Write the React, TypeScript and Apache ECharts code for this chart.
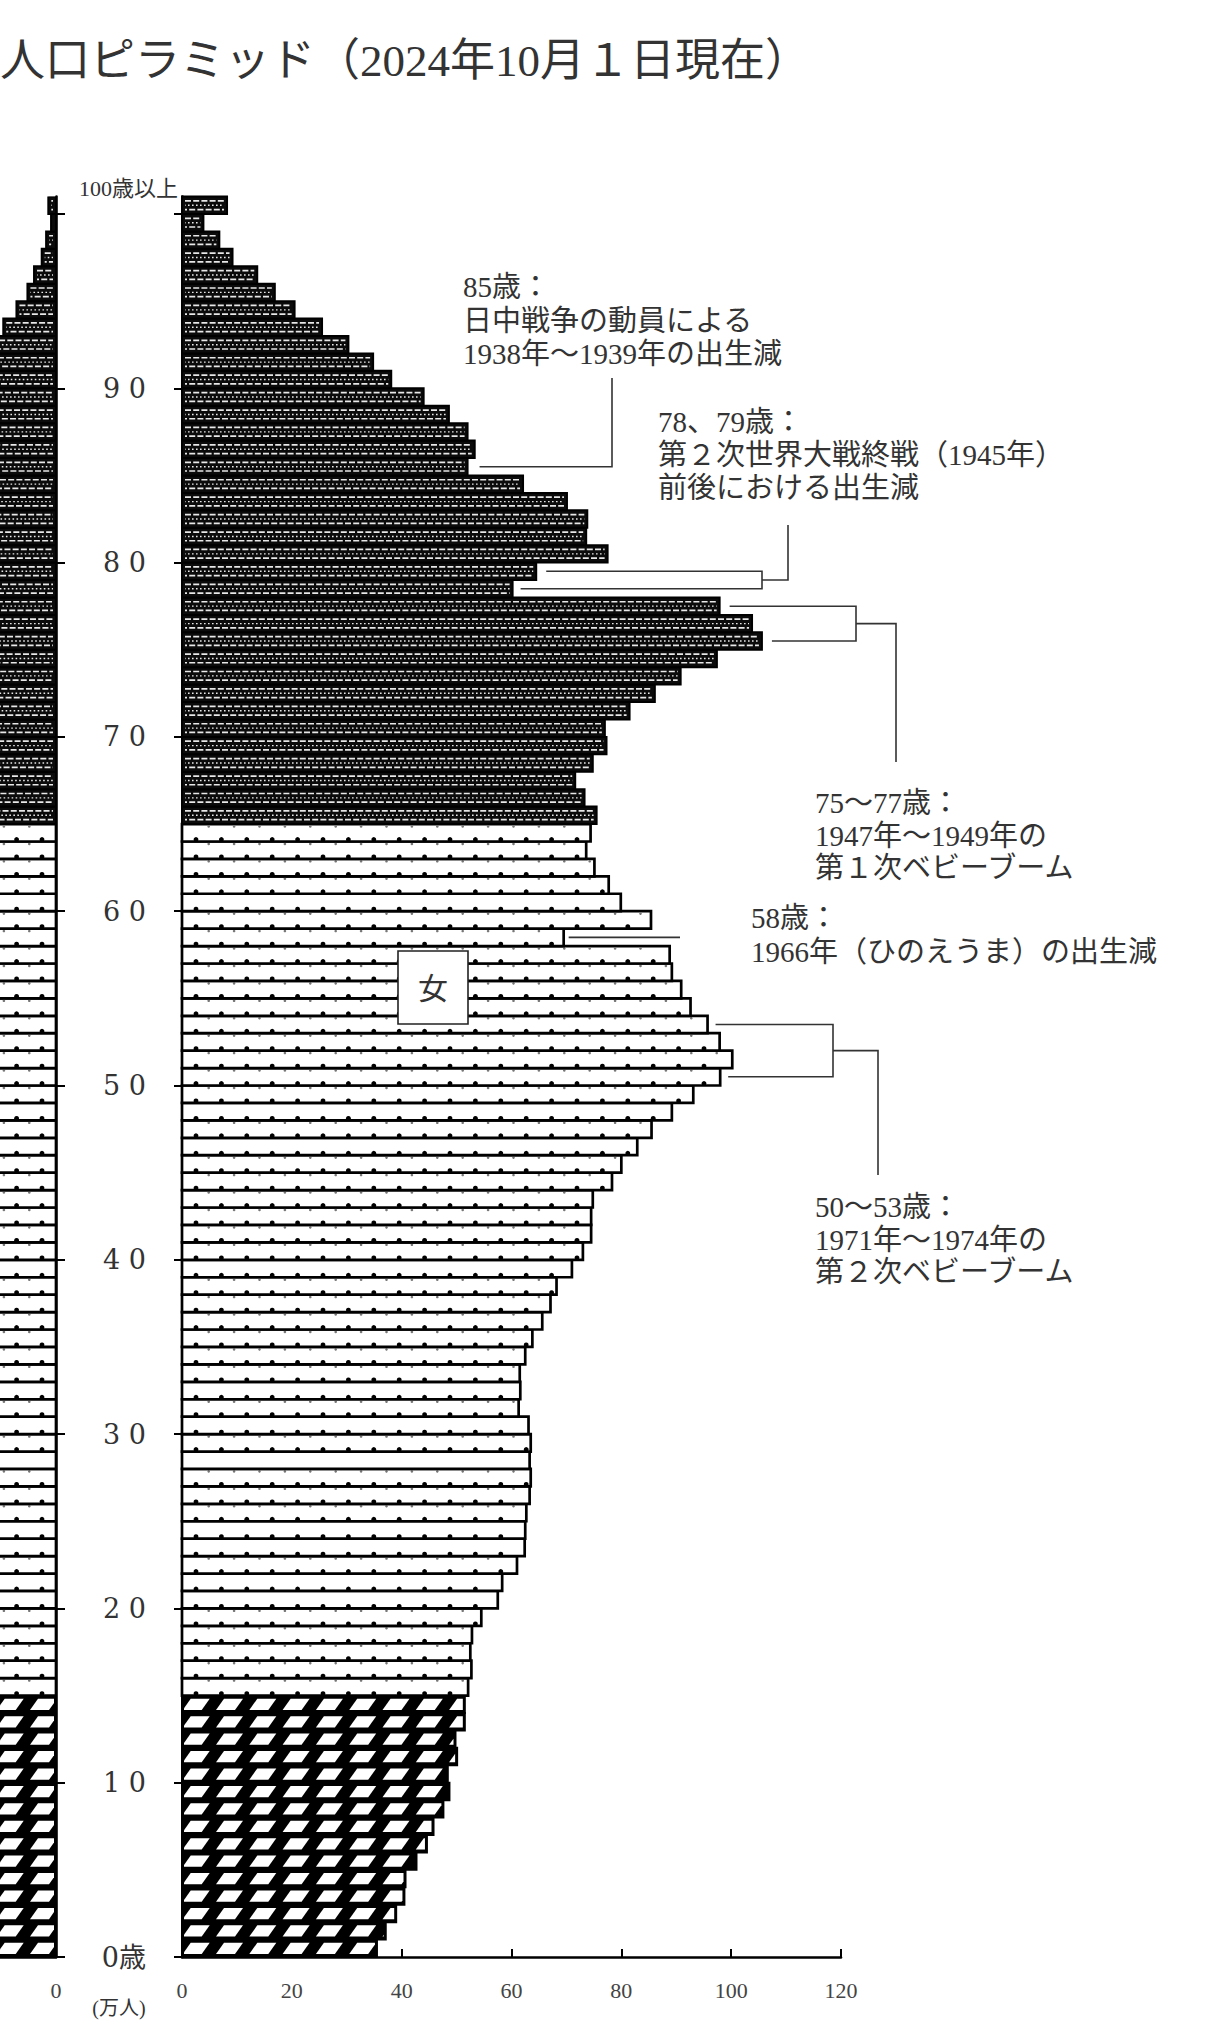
import React, { useEffect, useRef } from 'react';
import * as echarts from 'echarts';

// ---------- data ----------
const AGES: number[] = Array.from({ length: 101 }, (_, i) => i); // 0 .. 99, 100 = 100歳以上

// 女 (万人), age 0 .. 100+
const FEMALE: number[] = [
  35.5, 37.1, 39.0, 40.5, 40.7, 42.7, 44.6, 45.8, 47.6, 48.7,
  48.4, 50.1, 49.8, 51.5, 51.5, 52.1, 52.7, 52.5, 52.8, 54.5,
  57.5, 58.3, 61.0, 62.4, 62.5, 62.7, 63.3, 63.5, 63.3, 63.5,
  63.1, 61.3, 61.6, 61.5, 62.5, 63.8, 65.6, 67.1, 68.2, 71.0,
  73.0, 74.5, 74.5, 74.8, 78.3, 80.0, 82.9, 85.5, 89.2, 93.1,
  98.0, 100.2, 97.9, 95.7, 92.6, 90.9, 89.2, 88.8, 69.5, 85.4,
  79.9, 77.7, 75.1, 73.6, 74.4, 75.5, 73.3, 71.6, 74.8, 77.3,
  77.0, 81.5, 86.1, 90.8, 97.4, 105.6, 103.8, 97.9, 60.2, 64.5,
  77.5, 73.6, 73.8, 70.1, 62.1, 52.0, 53.3, 52.0, 48.6, 44.0,
  38.1, 34.8, 30.3, 25.5, 20.5, 16.9, 13.7, 9.2, 6.8, 3.9,
  8.2,
];

// 男 (万人), age 0 .. 100+ (only the oldest ages are visible in the cropped picture)
const MALE: number[] = [
  37.2, 39.1, 40.9, 42.4, 42.7, 44.8, 46.8, 48.1, 50.0, 51.1,
  50.8, 52.6, 52.3, 54.0, 54.1, 54.8, 55.4, 55.3, 55.9, 57.8,
  61.0, 62.1, 64.6, 65.8, 65.5, 65.4, 65.6, 65.4, 65.0, 64.9,
  64.5, 62.7, 63.1, 63.2, 64.4, 65.9, 67.8, 69.5, 70.6, 73.4,
  75.5, 77.1, 77.1, 77.3, 80.7, 82.6, 85.6, 88.2, 92.0, 96.1,
  101.0, 103.2, 100.5, 98.0, 94.6, 92.5, 90.3, 89.4, 69.6, 85.0,
  79.1, 76.2, 73.0, 71.0, 71.0, 71.5, 68.9, 66.8, 69.1, 70.8,
  69.7, 72.9, 76.2, 79.4, 84.2, 90.1, 87.4, 81.5, 49.2, 51.8,
  60.7, 56.1, 54.9, 50.4, 43.6, 35.0, 34.2, 31.4, 27.6, 23.3,
  18.8, 15.6, 12.4, 9.6, 7.2, 5.2, 4.0, 2.6, 1.8, 0.9,
  1.4,
];

const X_MIN = 0;
const X_MAX = 120;
const X_STEP = 20;
const AGE_TICKS = [0, 10, 20, 30, 40, 50, 60, 70, 80, 90, 100];
const AGE_TICK_LABELS = ['0歳', '1 0', '2 0', '3 0', '4 0', '5 0', '6 0', '7 0', '8 0', '9 0', ''];
const TOP_AGE_LABEL = '100歳以上';
const TITLE = '人口ピラミッド（2024年10月１日現在）';
const UNIT = '(万人)';
const SEX_LABEL = '女';
const OLD_FROM = 65;
const WORK_FROM = 15;

const ANN_85 = { ages: [85], lines: ['85歳：', '日中戦争の動員による', '1938年～1939年の出生減'] };
const ANN_78 = { ages: [79, 78], lines: ['78、79歳：', '第２次世界大戦終戦（1945年）', '前後における出生減'] };
const ANN_75 = { ages: [77, 75], lines: ['75～77歳：', '1947年～1949年の', '第１次ベビーブーム'] };
const ANN_58 = { ages: [58], lines: ['58歳：', '1966年（ひのえうま）の出生減'] };
const ANN_50 = { ages: [53, 50], lines: ['50～53歳：', '1971年～1974年の', '第２次ベビーブーム'] };

// ---------- drawing helpers ----------
const FONT = '"Liberation Serif", "Noto Sans CJK JP", serif';
const TXT = '#333';

function clipPoly(pts: number[][], lo: number, hi: number): number[][] {
  const edge = (poly: number[][], keep: (p: number[]) => boolean, xe: number) => {
    const out: number[][] = [];
    for (let i = 0; i < poly.length; i++) {
      const a = poly[i];
      const b = poly[(i + 1) % poly.length];
      const ka = keep(a);
      const kb = keep(b);
      if (ka) out.push(a);
      if (ka !== kb) {
        const t = (xe - a[0]) / (b[0] - a[0]);
        out.push([xe, a[1] + t * (b[1] - a[1])]);
      }
    }
    return out;
  };
  let p = edge(pts, (q) => q[0] >= lo, lo);
  if (p.length) p = edge(p, (q) => q[0] <= hi, hi);
  return p;
}

function makeRender(dir: number) {
  return (params: any, api: any) => {
    const val = api.value(0) as number;
    const age = api.value(1) as number;
    const pz = api.coord([0, age]);
    const pe = api.coord([val, age + 1]);
    const axisX = pz[0];
    const yBot = pz[1];
    const yTop = pe[1];
    const xa = Math.min(pz[0], pe[0]);
    const xb = Math.max(pz[0], pe[0]);
    const w = xb - xa;
    const h = yBot - yTop;
    const children: any[] = [];

    if (age >= OLD_FROM) {
      children.push({ type: 'rect', shape: { x: xa, y: yTop, width: w, height: h }, style: { fill: '#0b0b0b', stroke: '#000', lineWidth: 2 } });
      if (w > 6) {
        const rows = [
          { dy: 4.3, dash: [6, 2.2], off: 0, lw: 1.7 },
          { dy: 8.7, dash: [1.6, 2.4], off: 1, lw: 1.4 },
          { dy: 13.0, dash: [6, 2.2], off: 4, lw: 1.7 },
        ];
        rows.forEach((r) => {
          children.push({
            type: 'line',
            shape: { x1: xa + 3, y1: yTop + r.dy, x2: xb - 3, y2: yTop + r.dy },
            style: { stroke: '#e8e8e8', lineWidth: r.lw, lineDash: r.dash, lineDashOffset: r.off },
          });
        });
      }
    } else if (age >= WORK_FROM) {
      children.push({ type: 'rect', shape: { x: xa, y: yTop, width: w, height: h }, style: { fill: '#fff', stroke: '#000', lineWidth: 2.7 } });
      for (let k = 0; k < 40; k++) {
        const cx = axisX + dir * (14 + 25.4 * k);
        if (cx < xa + 4 || cx > xb - 4) break;
        children.push({ type: 'circle', shape: { cx, cy: yBot - 2, r: 2.4 }, style: { fill: '#000' } });
        const cx2 = cx + dir * 12.7;
        if (cx2 > xa + 4 && cx2 < xb - 4) {
          children.push({ type: 'circle', shape: { cx: cx2, cy: yTop + 2.4, r: 1.3 }, style: { fill: '#777' } });
        }
      }
    } else {
      children.push({ type: 'rect', shape: { x: xa, y: yTop, width: w, height: h }, style: { fill: '#000', stroke: '#000', lineWidth: 2 } });
      const P = 33.3;
      for (let k = 0; k < 20; k++) {
        const cl = dir > 0 ? axisX - 3.3 + P * k : axisX + 3.3 - P * (k + 1);
        if (cl > xb || cl + P < xa) continue;
        const poly = [
          [cl + 4, yBot - 3],
          [cl + 23, yBot - 3],
          [cl + 31, yTop + 3.2],
          [cl + 12, yTop + 3.2],
        ];
        const cp = clipPoly(poly, xa + 2, xb - 2);
        if (cp.length >= 3) {
          children.push({ type: 'polygon', shape: { points: cp }, style: { fill: '#fff' } });
        }
      }
    }
    return { type: 'group', children };
  };
}

const GRID_TOP = 196.57;
const GRID_H = 1760.43;
const F_LEFT = 182;
const F_W = 659;
const M_W = 56; // visible part of the male pyramid (cropped at the page edge)
const M_MAX = (M_W * X_MAX) / F_W; // same scale as the female side

function buildOption(): any {
  const axisLine = { show: true, onZero: false, lineStyle: { color: '#000', width: 2.6 } };
  return {
    animation: false,
    backgroundColor: '#fff',
    grid: [
      { left: 0, top: GRID_TOP, width: M_W, height: GRID_H, outerBoundsMode: 'none', containLabel: false },
      { left: F_LEFT, top: GRID_TOP, width: F_W, height: GRID_H, outerBoundsMode: 'none', containLabel: false },
    ],
    xAxis: [
      {
        gridIndex: 0, type: 'value', min: X_MIN, max: M_MAX, interval: X_STEP, inverse: true,
        axisLine, axisTick: { show: false },
        axisLabel: { formatter: (v: number) => (v === 0 ? '0' : ''), margin: 22, fontSize: 22, fontFamily: FONT, color: '#444' },
        splitLine: { show: false },
      },
      {
        gridIndex: 1, type: 'value', min: X_MIN, max: X_MAX, interval: X_STEP,
        axisLine, axisTick: { show: true, inside: true, length: 8, lineStyle: { color: '#000', width: 2 } },
        axisLabel: { margin: 22, fontSize: 22, fontFamily: FONT, color: '#444' },
        splitLine: { show: false },
      },
    ],
    yAxis: [
      {
        gridIndex: 0, type: 'value', min: 0, max: 101, interval: 10, position: 'right',
        axisLine, axisTick: { show: true, length: 9, customValues: AGE_TICKS, lineStyle: { color: '#000', width: 2 } },
        axisLabel: { show: false }, splitLine: { show: false },
      },
      {
        gridIndex: 1, type: 'value', min: 0, max: 101, interval: 10, position: 'left',
        axisLine, axisTick: { show: true, length: 8, customValues: AGE_TICKS, lineStyle: { color: '#000', width: 2 } },
        axisLabel: {
          customValues: AGE_TICKS,
          formatter: (v: number) => {
            const i = AGE_TICKS.indexOf(Math.round(v));
            return i >= 0 ? AGE_TICK_LABELS[i] : '';
          },
          margin: 36, fontSize: 27, fontFamily: '"DejaVu Serif", "Noto Sans CJK JP", serif', color: TXT,
        },
        splitLine: { show: false },
      },
    ],
    series: [
      {
        type: 'custom', name: '男', xAxisIndex: 0, yAxisIndex: 0, clip: true,
        encode: { x: 0, y: 1 },
        data: MALE.map((v, i) => [v, AGES[i]]),
        renderItem: makeRender(-1),
      },
      {
        type: 'custom', name: '女', xAxisIndex: 1, yAxisIndex: 1, clip: false,
        encode: { x: 0, y: 1 },
        data: FEMALE.map((v, i) => [v, AGES[i]]),
        renderItem: makeRender(1),
      },
    ],
  };
}

function textEl(text: string, x: number, y: number, size: number, align = 'left', color = TXT): any {
  return { type: 'text', x, y, z: 100, style: { text, fill: color, font: `${size}px ${FONT}`, align, verticalAlign: 'middle' } };
}

function buildGraphic(chart: any): any[] {
  const fp = (v: number, a: number) => chart.convertToPixel({ xAxisIndex: 1, yAxisIndex: 1 }, [v, a]) as number[];
  const endX = (age: number) => fp(FEMALE[age], age)[0];
  const cy = (age: number) => fp(0, age + 0.5)[1];
  const ls = { stroke: '#333', lineWidth: 1.6, fill: 'none' };
  const poly = (pts: number[][]) => ({ type: 'polyline', z: 100, shape: { points: pts }, style: ls });
  const els: any[] = [];
  const AS = 29; // annotation font size

  // title & fixed labels
  els.push(textEl(TITLE, 0, 61, 45));
  els.push(textEl(TOP_AGE_LABEL, 178, 188, 22, 'right'));
  els.push(textEl(UNIT, 119, 2008, 20, 'center'));

  // 女 box
  els.push({ type: 'rect', z: 100, shape: { x: 398, y: 951, width: 70, height: 73 }, style: { fill: '#fff', stroke: '#222', lineWidth: 1.6 } });
  els.push(textEl(SEX_LABEL, 433, 988, 30, 'center'));

  // 85
  {
    const a = ANN_85.ages[0];
    els.push(poly([[endX(a) + 12, cy(a)], [612, cy(a)], [612, 378]]));
    ANN_85.lines.forEach((t, i) => els.push(textEl(t, 463, 287 + i * 33.5, AS)));
  }
  // 78, 79
  {
    const [a1, a2] = ANN_78.ages;
    const bx = 762;
    els.push(poly([[endX(a1) + 10, cy(a1)], [bx, cy(a1)], [bx, cy(a2)], [endX(a2) + 8, cy(a2)]]));
    const mid = (cy(a1) + cy(a2)) / 2;
    els.push(poly([[bx, mid], [788, mid], [788, 525]]));
    ANN_78.lines.forEach((t, i) => els.push(textEl(t, 658, 422 + i * 33, AS)));
  }
  // 75-77
  {
    const [a1, a2] = ANN_75.ages;
    const bx = 856;
    els.push(poly([[endX(a1) + 10, cy(a1)], [bx, cy(a1)], [bx, cy(a2)], [endX(a2) + 10, cy(a2)]]));
    const mid = (cy(a1) + cy(a2)) / 2;
    els.push(poly([[bx, mid], [896, mid], [896, 762]]));
    ANN_75.lines.forEach((t, i) => els.push(textEl(t, 815, 803 + i * 32.5, AS)));
  }
  // 58
  {
    const a = ANN_58.ages[0];
    els.push(poly([[endX(a) + 5, cy(a)], [680, cy(a)]]));
    ANN_58.lines.forEach((t, i) => els.push(textEl(t, 751, 918 + i * 34, AS)));
  }
  // 50-53
  {
    const [a1, a2] = ANN_50.ages;
    const bx = 833;
    els.push(poly([[endX(a1) + 8, cy(a1)], [bx, cy(a1)], [bx, cy(a2)], [endX(a2) + 8, cy(a2)]]));
    const mid = (cy(a1) + cy(a2)) / 2;
    els.push(poly([[bx, mid], [878, mid], [878, 1175]]));
    ANN_50.lines.forEach((t, i) => els.push(textEl(t, 815, 1207 + i * 32.5, AS)));
  }
  return els;
}

export default function App() {
  const ref = useRef<HTMLDivElement>(null);
  useEffect(() => {
    if (!ref.current) return;
    const chart = echarts.init(ref.current, undefined, { renderer: 'svg' });
    chart.setOption(buildOption());
    chart.setOption({ graphic: buildGraphic(chart) });
    return () => chart.dispose();
  }, []);
  return (
    <div
      ref={ref}
      style={{ position: 'absolute', left: 0, top: 0, width: 1206, height: 2025, background: '#fff' }}
    />
  );
}
